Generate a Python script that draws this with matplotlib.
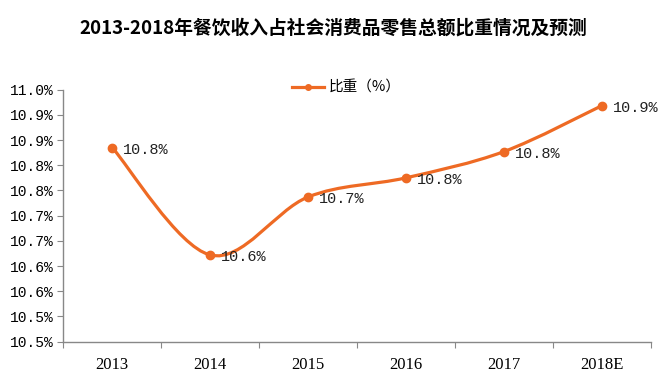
import matplotlib.pyplot as plt
from matplotlib.path import Path
from matplotlib.patches import PathPatch
from matplotlib.lines import Line2D

plt.rcParams['font.family'] = ['Noto Sans CJK SC', 'DejaVu Sans']

years = ['2013', '2014', '2015', '2016', '2017', '2018E']
share = [10.835, 10.622, 10.737, 10.775, 10.827, 10.918]
point_labels = ['10.8%', '10.6%', '10.7%', '10.8%', '10.8%', '10.9%']
yticks = [10.45, 10.50, 10.55, 10.60, 10.65, 10.70, 10.75, 10.80, 10.85, 10.90, 10.95]
ytick_labels = ['10.5%', '10.5%', '10.6%', '10.6%', '10.7%', '10.7%',
                '10.8%', '10.8%', '10.9%', '10.9%', '11.0%']

orange = '#EE6A24'

fig = plt.figure(figsize=(6.66, 3.78), dpi=100)
ax = fig.add_axes([0.095, 0.096, 0.882, 0.667])

x = [i + 0.5 for i in range(len(years))]

# smoothed line like the excel "smooth line" option (bezier through the points)
pts = list(zip(x, share))
verts = [pts[0]]
codes = [Path.MOVETO]
for i in range(len(pts) - 1):
    p0 = pts[i - 1] if i > 0 else pts[i]
    p1 = pts[i]
    p2 = pts[i + 1]
    p3 = pts[i + 2] if i + 2 < len(pts) else pts[i + 1]
    c1 = (p1[0] + (p2[0] - p0[0]) / 6, p1[1] + (p2[1] - p0[1]) / 6)
    c2 = (p2[0] - (p3[0] - p1[0]) / 6, p2[1] - (p3[1] - p1[1]) / 6)
    verts += [c1, c2, p2]
    codes += [Path.CURVE4] * 3
ax.add_patch(PathPatch(Path(verts, codes), fill=False, edgecolor=orange,
                       lw=2.3, capstyle='round', joinstyle='round', zorder=3))
ax.plot(x, share, 'o', color=orange, ms=6, zorder=4)

for xi, yi, lab in zip(x, share, point_labels):
    ax.annotate(lab, (xi, yi), xytext=(8, -1.5), textcoords='offset points',
                va='center', ha='left', fontsize=11, family='Liberation Mono',
                color='#222222')

ax.set_xlim(0, len(years))
ax.set_ylim(10.45, 10.95)
ax.set_xticks(range(len(years) + 1))
ax.set_xticklabels([])
ax.set_xticks(x, minor=True)
ax.set_xticklabels(years, minor=True, fontsize=12, family='Liberation Serif')
ax.tick_params(axis='x', which='minor', length=0, pad=11)
ax.tick_params(axis='x', which='major', length=4, color='#888888')
ax.set_yticks(yticks)
ax.set_yticklabels(ytick_labels, fontsize=10.5, family='Liberation Mono')
ax.tick_params(axis='y', length=4, color='#888888', pad=3)
for s in ['top', 'right']:
    ax.spines[s].set_visible(False)
for s in ['left', 'bottom']:
    ax.spines[s].set_color('#888888')
    ax.spines[s].set_linewidth(1)

handle = Line2D([], [], color=orange, lw=2.3, marker='o', ms=4)
fig.legend([handle], ['比重（%）'], loc='center', bbox_to_anchor=(0.52, 0.768),
           frameon=False, fontsize=10.5, handlelength=2.2, handletextpad=0.3)

fig.text(0.50, 0.926, '2013-2018年餐饮收入占社会消费品零售总额比重情况及预测',
         ha='center', va='center', fontsize=13.5, fontweight='bold')

fig.savefig('out.png', dpi=100)
